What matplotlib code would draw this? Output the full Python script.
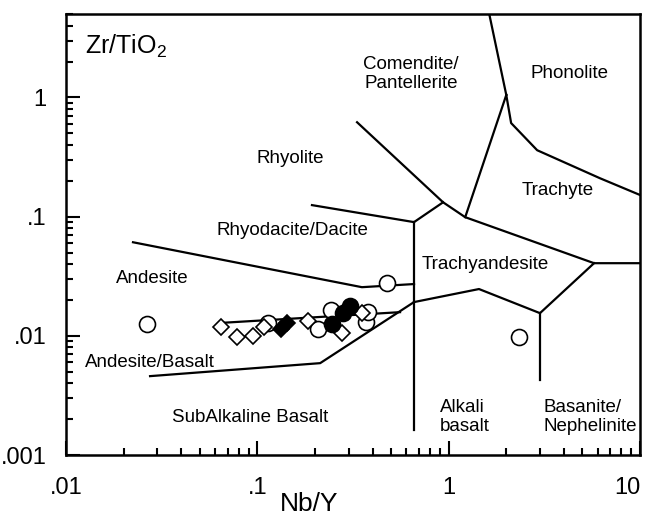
import matplotlib
matplotlib.use("Agg")
import matplotlib.pyplot as plt
from matplotlib.ticker import LogLocator, NullFormatter, FixedFormatter, FixedLocator

plt.rcParams['font.family'] = ['Liberation Sans', 'DejaVu Sans']
plt.rcParams['mathtext.default'] = 'regular'

# field boundaries (Nb/Y, Zr/TiO2)
bnd_phon_top_x = [1.63, 2.0]
bnd_phon_top_y = [5.0, 1.05]
bnd_phon_trach_x = [2.0, 2.12, 2.9, 6.18, 10.0]
bnd_phon_trach_y = [1.05, 0.61, 0.361, 0.21, 0.152]
bnd_com_trach_x = [2.0, 1.22]
bnd_com_trach_y = [1.05, 0.099]
bnd_rhy_com_x = [0.332, 0.935, 1.22, 5.75, 10.0]
bnd_rhy_com_y = [0.62, 0.132, 0.099, 0.0407, 0.0407]
bnd_short_x = [0.659, 0.935]
bnd_short_y = [0.090, 0.132]
bnd_rhy_dac_x = [0.193, 0.659]
bnd_rhy_dac_y = [0.125, 0.090]
bnd_vert_x = [0.659, 0.659]
bnd_vert_y = [0.090, 0.00162]
bnd_and_dac_x = [0.0224, 0.352, 0.659]
bnd_and_dac_y = [0.061, 0.0256, 0.0272]
bnd_trand_x = [0.659, 1.44, 3.0, 5.75]
bnd_trand_y = [0.0192, 0.0247, 0.0155, 0.0407]
bnd_bas_x = [3.0, 3.0]
bnd_bas_y = [0.0155, 0.00425]
bnd_andbas_x = [0.659, 0.213, 0.0275]
bnd_andbas_y = [0.0192, 0.0059, 0.00459]
bnd_and_andbas_x = [0.0624, 0.557]
bnd_and_andbas_y = [0.0128, 0.0158]

boundaries = [
    (bnd_phon_top_x, bnd_phon_top_y), (bnd_phon_trach_x, bnd_phon_trach_y),
    (bnd_com_trach_x, bnd_com_trach_y), (bnd_rhy_com_x, bnd_rhy_com_y),
    (bnd_short_x, bnd_short_y), (bnd_rhy_dac_x, bnd_rhy_dac_y),
    (bnd_vert_x, bnd_vert_y), (bnd_and_dac_x, bnd_and_dac_y),
    (bnd_trand_x, bnd_trand_y), (bnd_bas_x, bnd_bas_y),
    (bnd_andbas_x, bnd_andbas_y), (bnd_and_andbas_x, bnd_and_andbas_y),
]

# samples
open_circ_x = [0.0265, 0.476, 2.33, 0.1138, 0.2075, 0.2427, 0.370, 0.379]
open_circ_y = [0.01253, 0.0277, 0.00975, 0.0128, 0.01137, 0.01644, 0.01303, 0.0158]
open_diam_x = [0.0646, 0.0783, 0.0949, 0.1084, 0.184, 0.2774, 0.352]
open_diam_y = [0.01183, 0.00975, 0.00993, 0.01183, 0.01327, 0.01054, 0.0155]
fill_diam_x = [0.133, 0.1429]
fill_diam_y = [0.01137, 0.0128]
fill_circ_x = [0.2457, 0.2805, 0.305]
fill_circ_y = [0.01253, 0.0155, 0.01775]

fig = plt.figure(figsize=(6.45, 5.18), dpi=100)
ax = fig.add_axes([0.1023, 0.1216, 0.890, 0.851])

for bx, by in boundaries:
    ax.plot(bx, by, color='black', lw=1.6, zorder=2)

ax.plot(open_circ_x, open_circ_y, 'o', ms=11.5, mfc='white', mec='black', mew=1.2, ls='none', zorder=3)
ax.plot(open_diam_x, open_diam_y, 'D', ms=8, mfc='white', mec='black', mew=1.2, ls='none', zorder=4)
ax.plot(fill_diam_x, fill_diam_y, 'D', ms=8, mfc='black', mec='black', mew=1.2, ls='none', zorder=5)
ax.plot(fill_circ_x, fill_circ_y, 'o', ms=11.5, mfc='black', mec='black', mew=1.2, ls='none', zorder=6)

ax.set_xscale('log')
ax.set_yscale('log')
ax.set_xlim(0.01, 10)
ax.set_ylim(0.001, 5)

ax.xaxis.set_major_locator(FixedLocator([0.01, 0.1, 1, 10]))
ax.xaxis.set_major_formatter(FixedFormatter(['.01', '.1', '1', '10']))
ax.yaxis.set_major_locator(FixedLocator([0.001, 0.01, 0.1, 1]))
ax.yaxis.set_major_formatter(FixedFormatter(['.001', '.01', '.1', '1']))
ax.xaxis.set_minor_locator(LogLocator(base=10, subs=range(2, 10)))
ax.yaxis.set_minor_locator(LogLocator(base=10, subs=range(2, 10)))
ax.xaxis.set_minor_formatter(NullFormatter())
ax.yaxis.set_minor_formatter(NullFormatter())
ax.tick_params(which='both', direction='in', top=False, right=False, width=1.5)
ax.tick_params(which='major', length=10, labelsize=17)
ax.tick_params(which='minor', length=5)
ax.tick_params(axis='x', which='major', pad=16)
ax.tick_params(axis='y', which='major', pad=14)
for s in ax.spines.values():
    s.set_linewidth(1.8)

fig.canvas.draw()
xlabels = ax.get_xticklabels()
xlabels[-1].set_horizontalalignment('right')
xlabels[-1].set_x(10)

fs = 13.5
lab = dict(transform=ax.transAxes, fontsize=fs, ha='center', va='center')
ax.text(0.601, 0.864, 'Comendite/\nPantellerite', linespacing=1.1, **lab)
ax.text(0.878, 0.866, 'Phonolite', **lab)
ax.text(0.390, 0.673, 'Rhyolite', **lab)
ax.text(0.857, 0.601, 'Trachyte', **lab)
ax.text(0.395, 0.510, 'Rhyodacite/Dacite', **lab)
ax.text(0.150, 0.401, 'Andesite', **lab)
ax.text(0.730, 0.433, 'Trachyandesite', **lab)
ax.text(0.146, 0.209, 'Andesite/Basalt', **lab)
ax.text(0.321, 0.084, 'SubAlkaline Basalt', **lab)
ax.text(0.652, 0.086, 'Alkali\nbasalt', transform=ax.transAxes, fontsize=fs,
        ha='left', va='center', linespacing=1.1)
ax.text(0.831, 0.086, 'Basanite/\nNephelinite', transform=ax.transAxes, fontsize=fs,
        ha='left', va='center', linespacing=1.1)
ax.text(0.033, 0.927, 'Zr/TiO$_2$', transform=ax.transAxes, fontsize=18,
        ha='left', va='center')

fig.text(0.48, 0.027, 'Nb/Y', fontsize=19, ha='center', va='center')

fig.savefig('out.png', dpi=100)
